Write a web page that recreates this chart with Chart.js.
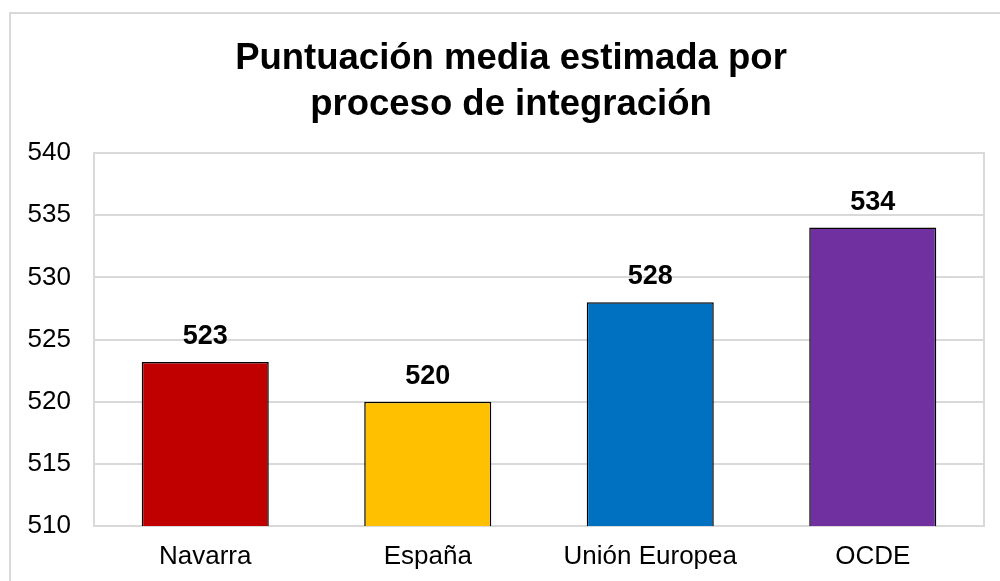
<!DOCTYPE html>
<html>
<head>
<meta charset="utf-8">
<script src="https://cdn.jsdelivr.net/npm/chart.js@4/dist/chart.umd.min.js"></script>
<style>
html,body{margin:0;padding:0;background:#fff;overflow:hidden;}
#wrap{position:absolute;left:0;top:0;width:1000px;height:581px;}
</style>
</head>
<body>
<div id="wrap"><canvas id="c" width="1000" height="581"></canvas></div>
<script>
const categories = ["Navarra", "España", "Unión Europea", "OCDE"];
const values = [523.2, 520.0, 528.0, 534.0];
const barColors = ["#C00000", "#FFC000", "#0070C0", "#7030A0"];
const titleLines = ["Puntuación media estimada por", "proceso de integración"];
const yMin = 510, yMax = 540, yStep = 5;

const FONT = "'Liberation Sans', Arial, Helvetica, sans-serif";

const frame = {
  id: 'frame',
  beforeDraw(chart) {
    const ctx = chart.ctx;
    ctx.save();
    ctx.fillStyle = '#fff';
    ctx.fillRect(0, 0, chart.width, chart.height);
    ctx.strokeStyle = '#d9d9d9';
    ctx.lineWidth = 2;
    ctx.strokeRect(10, 13, 1010, 600);
    ctx.restore();
  },
  beforeDatasetsDraw(chart) {
    const a = chart.chartArea, ctx = chart.ctx;
    ctx.save();
    ctx.strokeStyle = '#d9d9d9';
    ctx.lineWidth = 2;
    ctx.strokeRect(a.left, a.top, a.right - a.left, a.bottom - a.top);
    ctx.restore();
  },
  afterDraw(chart) {
    const ctx = chart.ctx;
    ctx.save();
    ctx.font = "bold 36.5px " + FONT;
    ctx.fillStyle = '#000';
    ctx.textAlign = 'center';
    ctx.textBaseline = 'alphabetic';
    titleLines.forEach((t, i) => ctx.fillText(t, 511, 69 + i * 46));
    ctx.restore();
  }
};

const valueLabels = {
  id: 'valueLabels',
  afterDatasetsDraw(chart) {
    const ctx = chart.ctx;
    const meta = chart.getDatasetMeta(0);
    ctx.save();
    ctx.font = "bold 27px " + FONT;
    ctx.fillStyle = '#000';
    ctx.textAlign = 'center';
    ctx.textBaseline = 'alphabetic';
    meta.data.forEach((bar, i) => {
      ctx.fillText(String(Math.round(values[i])), bar.x, bar.y - 18);
    });
    ctx.restore();
  }
};

new Chart(document.getElementById('c'), {
  type: 'bar',
  data: {
    labels: categories,
    datasets: [{
      data: values,
      backgroundColor: barColors,
      borderColor: '#000',
      borderWidth: 1.5,
      borderSkipped: false,
      categoryPercentage: 1,
      barPercentage: 0.571
    }]
  },
  options: {
    responsive: false,
    animation: false,
    devicePixelRatio: 1,
    layout: { padding: { top: 153, right: 16, bottom: 0, left: 0 } },
    plugins: {
      legend: { display: false },
      tooltip: { enabled: false },
      title: { display: false }
    },
    scales: {
      x: {
        grid: { display: false, drawTicks: false },
        border: { display: false },
        ticks: { color: '#000', font: { family: FONT, size: 26 }, padding: 15, maxRotation: 0 },
        afterFit(s) { s.height = 55; }
      },
      y: {
        min: yMin, max: yMax,
        grid: { color: '#d9d9d9', lineWidth: 2, drawTicks: false },
        border: { display: false },
        ticks: { stepSize: yStep, color: '#000', font: { family: FONT, size: 26 }, padding: 23 },
        afterFit(s) { s.width = 94; }
      }
    }
  },
  plugins: [frame, valueLabels]
});
</script>
</body>
</html>
